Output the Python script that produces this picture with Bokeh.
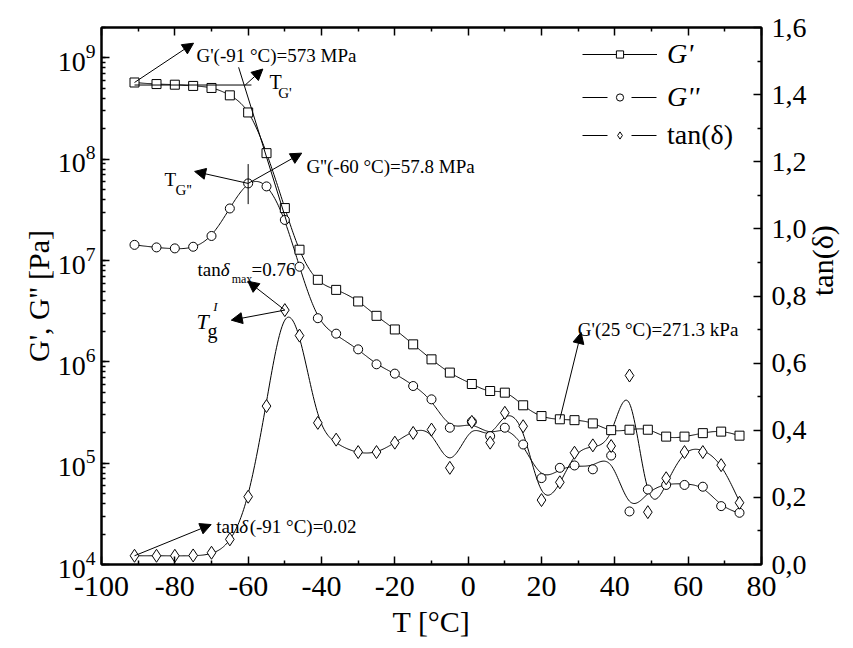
import numpy as np
from bokeh.plotting import figure
from bokeh.models import (Range1d, LinearAxis, LinearScale, FixedTicker, CustomJSTickFormatter,
                          Arrow, NormalHead, Label, Legend, LegendItem)
from bokeh.embed import file_html
from bokeh.resources import INLINE

# ---------------- data ----------------
T = [-91, -85, -80, -75, -70, -65, -60, -55, -50, -46, -41, -36, -30, -25, -20,
     -15, -10, -5, 1, 6, 10, 15, 20, 25, 29, 34, 39, 44, 49, 54, 59, 64, 69, 74]

G_storage = [5.73e8, 5.53e8, 5.45e8, 5.30e8, 5.06e8, 4.28e8, 2.90e8, 1.15e8, 3.30e7,
             1.28e7, 6.46e6, 5.14e6, 3.95e6, 2.85e6, 2.09e6, 1.49e6, 1.06e6, 7.84e5,
             6.05e5, 5.16e5, 4.97e5, 3.73e5, 2.92e5, 2.713e5, 2.66e5, 2.47e5, 2.12e5,
             2.14e5, 2.14e5, 1.83e5, 1.83e5, 1.98e5, 2.05e5, 1.87e5]

G_loss = [1.43e7, 1.35e7, 1.32e7, 1.37e7, 1.75e7, 3.27e7, 5.78e7, 5.40e7, 2.52e7,
          8.7e6, 2.70e6, 1.90e6, 1.33e6, 9.47e5, 7.66e5, 5.78e5, 4.27e5, 2.24e5,
          2.57e5, 1.85e5, 2.24e5, 1.53e5, 7.13e4, 9.0e4, 9.5e4, 8.7e4, 1.19e5,
          3.34e4, 5.5e4, 6.1e4, 6.1e4, 5.86e4, 3.77e4, 3.24e4]

tan_delta = [0.026, 0.026, 0.026, 0.027, 0.035, 0.075, 0.202, 0.472, 0.758, 0.682,
             0.422, 0.372, 0.335, 0.335, 0.363, 0.392, 0.402, 0.288, 0.425, 0.363,
             0.452, 0.412, 0.192, 0.245, 0.333, 0.355, 0.353, 0.563, 0.156, 0.257,
             0.335, 0.335, 0.296, 0.184]

x_ticks = [-100, -80, -60, -40, -20, 0, 20, 40, 60, 80]
x_minor = [-90, -70, -50, -30, -10, 10, 30, 50, 70]
tan_ticks = [0.0, 0.2, 0.4, 0.6, 0.8, 1.0, 1.2, 1.4, 1.6]
tan_minor = [0.1, 0.3, 0.5, 0.7, 0.9, 1.1, 1.3, 1.5]

FONT = "Liberation Serif"


def smooth_curve(x, y, lam, step=0.25):
    """Penalised (spline-like) smooth line through the measured points."""
    x = np.asarray(x, float)
    y = np.asarray(y, float)
    xs = np.arange(x[0], x[-1] + step / 2, step)
    n = len(xs)
    idx = np.round((x - x[0]) / step).astype(int)
    w = np.zeros(n)
    wy = np.zeros(n)
    np.add.at(w, idx, 1.0)
    np.add.at(wy, idx, y)
    D = np.diff(np.eye(n), 2, axis=0)
    A = np.diag(w) + lam * (D.T @ D)
    z = np.linalg.solve(A, wy)
    return xs, z


p = figure(frame_width=660, frame_height=537,
           x_range=Range1d(-100, 80), y_range=Range1d(1e4, 2.0e9),
           y_axis_type="log", output_backend="svg", toolbar_location=None,
           min_border_left=101, min_border_right=70, min_border_top=27,
           min_border_bottom=68)
p.extra_y_ranges = {"tan": Range1d(0, 1.6)}
p.extra_y_scales = {"tan": LinearScale()}
p.xgrid.visible = False
p.ygrid.visible = False
p.outline_line_color = "black"
p.outline_line_width = 2
p.background_fill_color = "white"
p.border_fill_color = "white"


def style_axis(ax, size="28px"):
    ax.axis_line_width = 2
    ax.axis_line_color = "black"
    ax.major_tick_in = 8
    ax.major_tick_out = 0
    ax.minor_tick_in = 4
    ax.minor_tick_out = 0
    ax.major_tick_line_width = 1.5
    ax.minor_tick_line_width = 1.5
    ax.major_label_text_font = FONT
    ax.major_label_text_font_size = size
    ax.major_label_text_color = "black"
    ax.axis_label_text_font = FONT
    ax.axis_label_text_font_size = "30px"
    ax.axis_label_text_font_style = "normal"
    ax.axis_label_text_color = "black"


xa = p.xaxis[0]
xa.ticker = FixedTicker(ticks=x_ticks, minor_ticks=x_minor)
xa.formatter = CustomJSTickFormatter(code="return tick.toFixed(0);")
xa.axis_label = "T [°C]"
style_axis(xa, "30px")
xa.major_label_standoff = 12
xa.axis_label_standoff = 6

ya = p.yaxis[0]
ya.axis_label = "G', G'' [Pa]"
style_axis(ya, "28px")
ya.major_label_standoff = 6
ya.axis_label_standoff = 0

ra = LinearAxis(y_range_name="tan", axis_label="tan(δ)",
                ticker=FixedTicker(ticks=tan_ticks, minor_ticks=tan_minor),
                formatter=CustomJSTickFormatter(code="return tick.toFixed(1).replace('.', ',');"))
style_axis(ra, "28px")
ra.major_label_standoff = 10
ra.axis_label_standoff = 13
ra.axis_label_orientation = np.pi / 2
p.add_layout(ra, "right")

ta = LinearAxis(ticker=FixedTicker(ticks=x_ticks, minor_ticks=x_minor),
                formatter=CustomJSTickFormatter(code="return '';"))
style_axis(ta)
ta.major_label_text_font_size = "1px"
ta.major_label_text_color = None
ta.major_label_standoff = 0
p.add_layout(ta, "above")

# ---------------- curves ----------------
xs1, z1 = smooth_curve(T, np.log10(G_storage), 1.0)
xs2, z2 = smooth_curve(T, np.log10(G_loss), 300.0)
xs3, z3 = smooth_curve(T, tan_delta, 300.0)

r_l1 = p.line(xs1, 10 ** z1, line_color="black", line_width=1)
p.line(xs2, 10 ** z2, line_color="black", line_width=1)
p.line(xs3, z3, line_color="black", line_width=1, y_range_name="tan")

mk = dict(fill_color="white", line_color="black", line_width=1)
p.scatter(T, G_storage, marker="square", size=9, **mk)
p.scatter(T, G_loss, marker="circle", size=9, **mk)
p.scatter(T, tan_delta, marker="diamond", size=13, y_range_name="tan", **mk)

# legend-only (hidden) renderers carrying the same series, for the key glyphs
lg_gap1 = p.line(xs2, 10 ** z2, line_color="black", line_width=1, line_dash="25 24", visible=False)
lg_ci = p.scatter(T, G_loss, marker="circle", size=7, visible=False, **mk)
lg_gap2 = p.line(xs3, z3, line_color="black", line_width=1, line_dash="25 24",
                 y_range_name="tan", visible=False)
lg_di = p.scatter(T, tan_delta, marker="diamond", size=7, y_range_name="tan", visible=False, **mk)
lg_sq = p.scatter(T, G_storage, marker="square", size=7, visible=False, **mk)


# ---------------- annotations ----------------
def arrow(x0, y0, x1, y1, head=True, rng="default"):
    kw = dict(x_start=x0, y_start=y0, x_end=x1, y_end=y1,
              line_color="black", line_width=1)
    if head:
        kw["end"] = NormalHead(size=11, fill_color="black", line_color="black")
    else:
        kw["end"] = None
    if rng != "default":
        kw["y_range_name"] = rng
    p.add_layout(Arrow(**kw))


def label(x, y, text, size=19, style="normal", rng="default"):
    kw = dict(x=x, y=y, text=text, text_font=FONT, text_font_size=f"{size}px",
              text_font_style=style, text_color="black", text_baseline="alphabetic",
              text_align="left")
    if rng != "default":
        kw["y_range_name"] = rng
    p.add_layout(Label(**kw))


# G'(-91 C)
arrow(T[0], G_storage[0], -74.9, 1.40e9)
label(-74.1, 1.07e9, "G'(-91 °C)=573 MPa")
# onset tangents of G'
arrow(T[0], 5.41e8, -59.1, 5.41e8, head=False)
arrow(-62.6, 8.09e8, -49.3, 2.29e7, head=False)
arrow(-60.8, 5.41e8, -56.0, 7.78e8)
label(-54.2, 5.8e8, "T", 20)
label(-51.8, 4.51e8, "G'", 15)
# G'' maximum
arrow(T[6], G_loss[6], -45.4, 1.15e8)
label(-44.1, 8.57e7, "G''(-60 °C)=57.8 MPa")
arrow(T[6], 8.97e7, T[6], 3.61e7, head=False)
arrow(T[6], G_loss[6], -74.6, 7.59e7)
label(-82.8, 6.37e7, "T", 19)
label(-79.8, 4.97e7, "G''", 15)
# tan delta max
arrow(T[8], tan_delta[8], -60.1, 0.844, rng="tan")
arrow(T[8], tan_delta[8], -64.6, 0.728, rng="tan")
label(-73.8, 0.879, "tan", 19, rng="tan")
label(-67.5, 0.879, "δ", 19, "italic", rng="tan")
label(-64.5, 0.852, "max", 12, rng="tan")
label(-59.1, 0.879, "=0.76", 19, rng="tan")
label(-74.1, 0.724, "T", 22, "italic", rng="tan")
label(-71.1, 0.697, "g", 20, rng="tan")
label(-69.5, 0.769, "I", 13, "italic", rng="tan")
# tan delta at -91
arrow(T[0], tan_delta[0], -70.1, 0.119, rng="tan")
label(-68.7, 0.114, "tan", 19, rng="tan")
label(-62.4, 0.114, "δ", 19, "italic", rng="tan")
label(-59.6, 0.114, "(-91 °C)=0.02", 19, rng="tan")
# G'(25 C)
arrow(T[23], G_storage[23], 30.8, 1.95e6)
label(29.9, 2.1e6, "G'(25 °C)=271.3 kPa")


# ---------------- legend ----------------
def make_legend(items, loc, style):
    lg = Legend(items=items, location=loc, orientation="vertical",
                glyph_width=75, glyph_height=18, label_height=40, spacing=3,
                padding=0, margin=0, label_standoff=10,
                label_text_font=FONT, label_text_font_size="28px",
                label_text_font_style=style, label_text_color="black",
                background_fill_alpha=0, border_line_color=None,
                inactive_fill_alpha=0)
    p.add_layout(lg)


make_legend([LegendItem(label="G'", renderers=[r_l1, lg_sq]),
             LegendItem(label="G''", renderers=[lg_gap1, lg_ci])], (481, 447), "italic")
make_legend([LegendItem(label="tan(δ)", renderers=[lg_gap2, lg_di])], (481, 409), "normal")

open("out.html", "w").write(file_html(p, INLINE))
